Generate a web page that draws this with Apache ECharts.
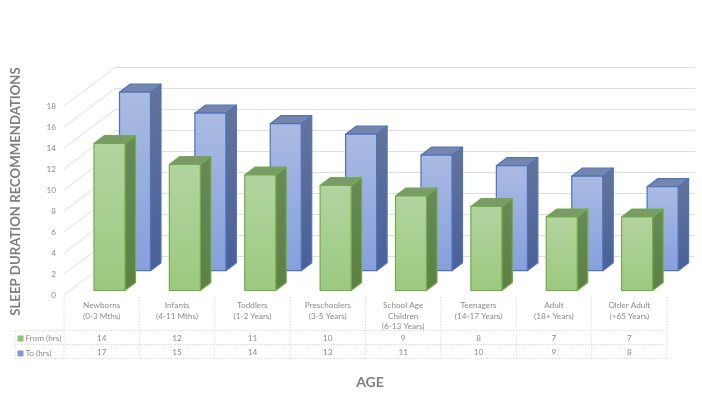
<!DOCTYPE html>
<html>
<head>
<meta charset="utf-8">
<style>html,body{margin:0;padding:0;background:#fff}#c{width:702px;height:395px}</style>
<script src="https://cdn.jsdelivr.net/npm/echarts@6/dist/echarts.min.js"></script>
</head>
<body>
<div id="c"></div>
<script>
var categories = ['Newborns\n(0-3 Mths)','Infants\n(4-11 Mths)','Toddlers\n(1-2 Years)','Preschoolers\n(3-5 Years)','School Age\nChildren\n(6-13 Years)','Teenagers\n(14-17 Years)','Adult\n(18+ Years)','Older Adult\n(>65 Years)'];
var fromHrs = [14,12,11,10,9,8,7,7];
var toHrs = [17,15,14,13,11,10,9,8];
var yTicks = [0,2,4,6,8,10,12,14,16,18];

var FONT = 'Lato, "Open Sans", sans-serif';
var TXT = '#8c8c8c', LINE = '#dedede', TFS = 8.2;
var WALL = {dx:51, dy:-38.5, right:695};
var BAR = {w:31, dx:10.5, dy:-8};
var ROW = {top:330.5, h:14, left:15, vTop:297};
var G = echarts.graphic;
function grad(a,b){return new G.LinearGradient(0,0,0,1,[{offset:0,color:a},{offset:1,color:b}]);}

function bar3d(cfg){
  return function(params, api){
    var i = api.value(0), v = api.value(1);
    var p0 = api.coord([i,0]);
    var p1 = api.coord([i,v]);
    var l = p0[0] + cfg.shift - BAR.w/2, r = l + BAR.w;
    var b = p0[1] + cfg.base, t = p1[1] + cfg.base;
    var ds = BAR.dx, dd = BAR.dy;
    var st = {stroke:cfg.border, lineWidth:1.2, lineJoin:'round'};
    return {type:'group', children:[
      {type:'polygon', shape:{points:[[r,t],[r+ds,t+dd],[r+ds,b+dd],[r,b]]}, style:Object.assign({fill:grad(cfg.sideTop,cfg.sideBot)},st)},
      {type:'polygon', shape:{points:[[l,t],[l+ds,t+dd],[r+ds,t+dd],[r,t]]}, style:Object.assign({fill:cfg.top},st)},
      {type:'rect', shape:{x:l,y:t,width:BAR.w,height:b-t}, style:Object.assign({fill:grad(cfg.frontTop,cfg.frontBot)},st)}
    ]};
  };
}
function rowOf(arr){return arr.map(function(v,i){return [i,v];});}

var option = {
  animation:false,
  backgroundColor:'#ffffff',
  textStyle:{fontFamily:FONT},
  grid:{left:64, width:603, top:106, height:189, containLabel:false, outerBoundsMode:'none'},
  legend:{
    left:17.5, top:333, orient:'vertical', itemWidth:6, itemHeight:6, itemGap:4, padding:0,
    icon:'rect', selectedMode:false,
    textStyle:{color:TXT, fontSize:TFS, fontFamily:FONT, padding:[1,0,0,-3], lineHeight:10},
    data:['From (hrs)','To (hrs)']
  },
  xAxis:{
    type:'category', data:categories, boundaryGap:true,
    name:'AGE', nameLocation:'middle', nameGap:80,
    nameTextStyle:{color:'#7f7f7f', fontSize:14, fontWeight:'bold', fontFamily:FONT, padding:[0,0,0,9]},
    axisLine:{show:false}, axisTick:{show:false},
    axisLabel:{color:TXT, fontSize:TFS, lineHeight:10.7, interval:0, margin:5, verticalAlign:'top', fontFamily:FONT}
  },
  yAxis:{
    type:'value', min:0, max:18, interval:2,
    name:'SLEEP DURATION RECOMMENDATIONS', nameLocation:'middle', nameGap:42, nameRotate:90,
    nameTextStyle:{color:'#7f7f7f', fontSize:13.2, fontWeight:'bold', fontFamily:FONT, padding:[0,0,0,18]},
    axisLine:{show:false}, axisTick:{show:false}, splitLine:{show:false},
    axisLabel:{color:TXT, fontSize:TFS, margin:8, fontFamily:FONT, padding:[3,0,0,0]}
  },
  series:[
    {
      name:'walls', type:'custom', silent:true, clip:false, z:1,
      data:yTicks.map(function(t){return [0,t];}),
      encode:{x:0,y:1},
      renderItem:function(params, api){
        var x0 = params.coordSys.x, y = api.coord([0,api.value(1)])[1];
        return {type:'polyline', shape:{points:[[x0,y],[x0+WALL.dx,y+WALL.dy],[WALL.right,y+WALL.dy]]},
          style:{fill:null, stroke:LINE, lineWidth:1}};
      }
    },
    {
      name:'To (hrs)', type:'custom', clip:false, z:2,
      itemStyle:{color:'#7f9ad6'},
      data:rowOf(toHrs), encode:{x:0,y:1},
      renderItem:bar3d({shift:33.3, base:-24.3, border:'#4f74bd', top:'#7585ac', sideTop:'#64749a', sideBot:'#4a6098', frontTop:'#aabae2', frontBot:'#86a0dc'})
    },
    {
      name:'From (hrs)', type:'custom', clip:false, z:3,
      itemStyle:{color:'#8fc474'},
      data:rowOf(fromHrs), encode:{x:0,y:1},
      renderItem:bar3d({shift:7.8, base:-4.5, border:'#70ad47', top:'#7a9a68', sideTop:'#678a58', sideBot:'#5c8045', frontTop:'#b2d4a0', frontBot:'#9cc97f'})
    },
    {
      name:'tableFrom', type:'custom', silent:true, clip:false, z:4,
      data:rowOf(fromHrs), encode:{x:0,y:1},
      renderItem:function(params, api){return cell(api,0);}
    },
    {
      name:'tableTo', type:'custom', silent:true, clip:false, z:4,
      data:rowOf(toHrs), encode:{x:0,y:1},
      renderItem:function(params, api){return cell(api,1);}
    },
    {
      name:'tableGrid', type:'custom', silent:true, clip:false, z:1,
      data:[[0,0]], encode:{x:0,y:1},
      renderItem:function(params, api){
        var c = params.coordSys, kids = [], band = c.width/categories.length;
        var dash = {stroke:'#dcdcdc', lineWidth:1, lineDash:[1.5,1.5]};
        for (var r=0;r<3;r++){
          var y = ROW.top + r*ROW.h;
          kids.push({type:'line', shape:{x1:ROW.left,y1:y,x2:c.x+c.width,y2:y}, style:dash});
        }
        kids.push({type:'line', shape:{x1:ROW.left,y1:ROW.top,x2:ROW.left,y2:ROW.top+2*ROW.h}, style:dash});
        for (var i=0;i<=categories.length;i++){
          var x = c.x + i*band;
          kids.push({type:'line', shape:{x1:x,y1:ROW.vTop,x2:x,y2:ROW.top+2*ROW.h}, style:dash});
        }
        return {type:'group', children:kids};
      }
    }
  ]
};
function cell(api,row){
  var x = api.coord([api.value(0),0])[0];
  return {type:'text', style:{text:String(api.value(1)), x:x, y:ROW.top+ROW.h*(row+0.5)+0.7, align:'center', verticalAlign:'middle',
    fill:TXT, fontSize:TFS, fontFamily:FONT}};
}
var chart = echarts.init(document.getElementById('c'), null, {renderer:'canvas'});
chart.setOption(option);
</script>
</body>
</html>
